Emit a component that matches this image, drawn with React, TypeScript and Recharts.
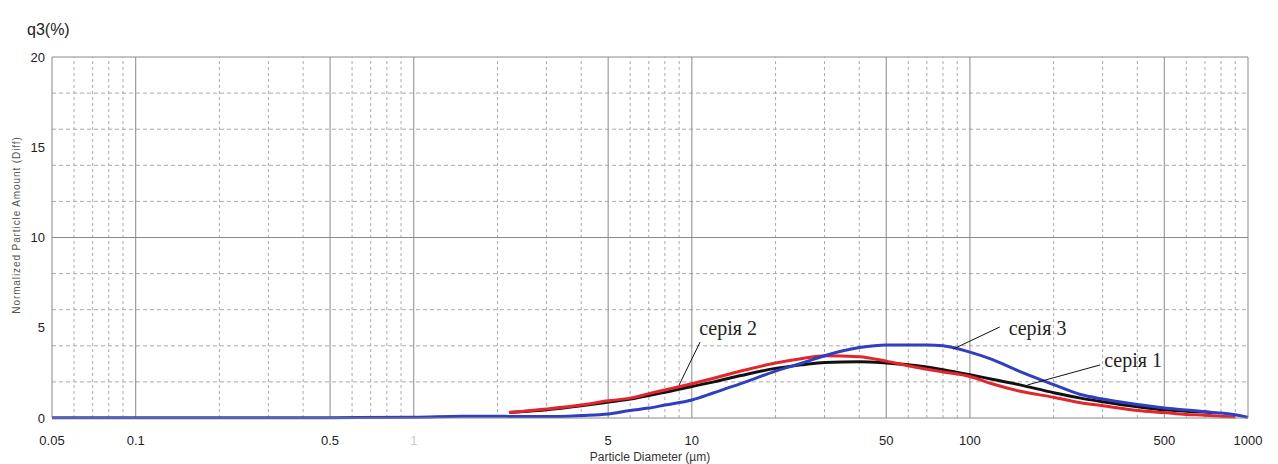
import React from 'react';
import { LineChart, Line, XAxis, YAxis, ReferenceLine, ReferenceDot } from 'recharts';

// Particle diameter (µm), shared sample points
const diameters = [0.05, 0.1, 0.2, 0.5, 1, 1.5, 2, 2.2, 2.5, 3, 4, 5, 6, 7, 8, 10, 12, 15, 20, 25, 30, 40, 50, 60, 70, 80, 100, 120, 150, 200, 250, 300, 400, 500, 600, 700, 750, 800, 900, 1000];
// серія 1 (black)
const seria1 = [null, null, null, null, null, null, null, 0.3, 0.36, 0.46, 0.68, 0.88, 1.05, 1.25, 1.42, 1.75, 2.0, 2.35, 2.75, 2.95, 3.08, 3.12, 3.05, 2.95, 2.82, 2.68, 2.4, 2.15, 1.85, 1.4, 1.1, 0.9, 0.62, 0.45, 0.38, 0.33, 0.3, null, null, null];
// серія 2 (red)
const seria2 = [null, null, null, null, null, null, null, 0.3, 0.38, 0.5, 0.72, 0.95, 1.1, 1.35, 1.55, 1.9, 2.2, 2.6, 3.05, 3.3, 3.45, 3.4, 3.15, 2.9, 2.7, 2.55, 2.3, 1.9, 1.5, 1.15, 0.85, 0.68, 0.42, 0.3, 0.2, 0.15, 0.12, 0.1, 0.05, null];
// серія 3 (blue)
const seria3 = [0.02, 0.02, 0.02, 0.02, 0.04, 0.1, 0.1, 0.09, 0.08, 0.08, 0.14, 0.22, 0.42, 0.55, 0.72, 1.0, 1.4, 1.9, 2.6, 3.05, 3.45, 3.9, 4.05, 4.05, 4.05, 4.0, 3.65, 3.25, 2.6, 1.85, 1.3, 1.05, 0.75, 0.55, 0.45, 0.35, 0.31, 0.28, 0.18, 0.04];

const xTicks = [0.05, 0.1, 0.5, 1, 5, 10, 50, 100, 500, 1000];
const xTickLabels = ['0.05', '0.1', '0.5', '1', '5', '10', '50', '100', '500', '1000'];
const xFaintTicks = [1];
const yTicks = [0, 5, 10, 15, 20];
const xMajorGrid = [0.1, 0.5, 1, 5, 10, 50, 100, 500];
const xMinorGrid = [0.06, 0.07, 0.08, 0.09, 0.2, 0.3, 0.4, 0.6, 0.7, 0.8, 0.9, 2, 3, 4, 6, 7, 8, 9, 20, 30, 40, 60, 70, 80, 90, 200, 300, 400, 600, 700, 800, 900];
const yMajorGrid = [10, 20];
const yMinorGrid = [2, 4, 6, 8, 12, 14, 16, 18];

const annotationLabels = ['серія 2', 'серія 3', 'серія 1'];
const annotationText = [[13.5, 5.0], [175, 5.0], [386, 3.2]];
const annotationFrom = [[10.7, 4.2], [128, 5.04], [294, 2.94]];
const annotationTo = [[9.0, 1.83], [87, 3.82], [161, 1.83]];

const rows = diameters.map((d, i) => ({ d, s1: seria1[i], s2: seria2[i], s3: seria3[i] }));

const FONT = 'Liberation Sans, Arial, sans-serif';
const tickStyle = { fontSize: 13, fill: '#222', fontFamily: FONT };

function XTick(props: any) {
  const { x, y, payload } = props;
  const v = payload.value;
  const faint = xFaintTicks.includes(v);
  const label = xTickLabels[xTicks.indexOf(v)] ?? String(v);
  return (
    <text x={x} y={y} dy="0.71em" textAnchor="middle" fontSize={13} fontFamily={FONT} fill={faint ? '#ccc' : '#222'}>
      {label}
    </text>
  );
}

export default function App() {
  return (
    <div style={{ position: 'absolute', left: 0, top: 0, width: 1278, height: 464, background: '#fff', overflow: 'hidden' }}>
      <div style={{ position: 'absolute', left: 27, top: 21, fontSize: 16, lineHeight: '18px', fontFamily: FONT, color: '#222' }}>q3(%)</div>
      <div style={{ position: 'absolute', left: 16, top: 225, transform: 'translate(-50%, -50%) rotate(-90deg)', whiteSpace: 'nowrap', fontSize: 10, letterSpacing: 0.9, color: '#555', fontFamily: FONT }}>Normalized Particle Amount (Diff)</div>
      <LineChart width={1278} height={464} data={rows} margin={{ top: 57, right: 0, bottom: 0, left: 0 }}>
        <XAxis
          dataKey="d"
          type="number"
          scale="log"
          domain={[0.05, 1000]}
          allowDataOverflow
          ticks={xTicks}
          height={46}
          tickLine={false}
          tickSize={0}
          tickMargin={18}
          tick={<XTick />}
          axisLine={{ stroke: '#888' }}
          interval={0}
          label={{ value: 'Particle Diameter (µm)', position: 'insideBottom', offset: 3, fontSize: 12, fill: '#333', fontFamily: FONT }}
        />
        <YAxis yAxisId="left" width={52} domain={[0, 20]} ticks={yTicks} tickLine={false} tickSize={0} tickMargin={7} tick={tickStyle} axisLine={{ stroke: '#888' }} interval={0} />
        <YAxis yAxisId="right" orientation="right" width={30} domain={[0, 20]} ticks={yTicks} tickLine={false} tickSize={0} tickMargin={8} tick={tickStyle} axisLine={{ stroke: '#888' }} interval={0} />

        {xMinorGrid.map((v) => (
          <ReferenceLine key={'xm' + v} yAxisId="left" x={v} stroke="#aaa" strokeDasharray="3 3" strokeWidth={1} />
        ))}
        {yMinorGrid.map((v) => (
          <ReferenceLine key={'ym' + v} yAxisId="left" y={v} stroke="#aaa" strokeDasharray="4 3" strokeWidth={1} />
        ))}
        {xMajorGrid.map((v) => (
          <ReferenceLine key={'xM' + v} yAxisId="left" x={v} stroke="#8a8a8a" strokeWidth={1} />
        ))}
        {yMajorGrid.map((v) => (
          <ReferenceLine key={'yM' + v} yAxisId="left" y={v} stroke="#8a8a8a" strokeWidth={1} />
        ))}

        <Line yAxisId="left" dataKey="s1" stroke="#111" strokeWidth={3} dot={false} type="monotone" isAnimationActive={false} connectNulls={false} />
        <Line yAxisId="left" dataKey="s2" stroke="#e3262b" strokeWidth={3} dot={false} type="monotone" isAnimationActive={false} connectNulls={false} />
        <Line yAxisId="left" dataKey="s3" stroke="#2f3fbf" strokeWidth={3} dot={false} type="monotone" isAnimationActive={false} connectNulls={false} />

        {annotationLabels.map((t, i) => (
          <ReferenceLine
            key={'al' + i}
            yAxisId="left"
            segment={[{ x: annotationFrom[i][0], y: annotationFrom[i][1] }, { x: annotationTo[i][0], y: annotationTo[i][1] }]}
            stroke="#111"
            strokeWidth={1}
          />
        ))}
        {annotationLabels.map((t, i) => (
          <ReferenceDot
            key={'at' + i}
            yAxisId="left"
            x={annotationText[i][0]}
            y={annotationText[i][1]}
            r={0}
            fill="none"
            stroke="none"
            label={{ value: t, position: 'center', fontSize: 20, fill: '#222', fontFamily: 'Liberation Serif, Times New Roman, serif' }}
          />
        ))}
      </LineChart>
    </div>
  );
}
